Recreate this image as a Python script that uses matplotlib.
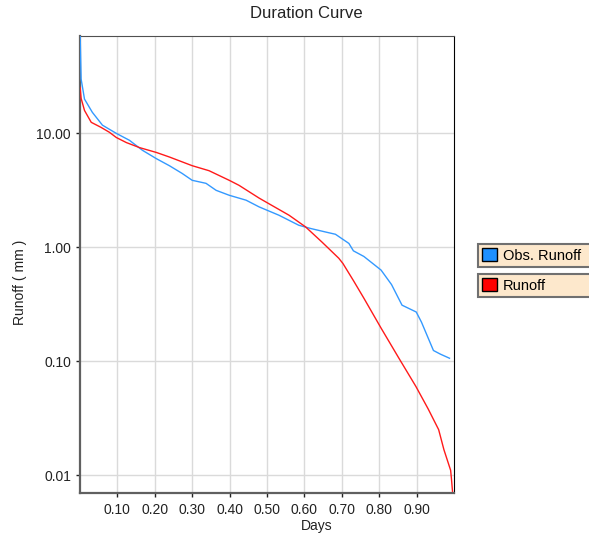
import numpy as np
import matplotlib
matplotlib.use('Agg')
import matplotlib.pyplot as plt
import matplotlib.patches as mpatches

plt.rcParams['font.family'] = ['Liberation Sans', 'DejaVu Sans']

# exceedance fraction vs runoff (mm)
obs_x = [0.0, 0.0005, 0.003, 0.012, 0.033, 0.06, 0.097, 0.132, 0.167, 0.204,
         0.239, 0.273, 0.30, 0.337, 0.364, 0.399, 0.444, 0.479, 0.532, 0.585,
         0.617, 0.657, 0.683, 0.719, 0.731, 0.759, 0.805, 0.833, 0.861, 0.899,
         0.913, 0.945, 0.964, 0.988]
obs_y = [75.0, 70.0, 30.0, 20.0, 15.3, 11.8, 10.0, 8.7, 7.1, 6.0,
         5.2, 4.45, 3.87, 3.64, 3.16, 2.86, 2.59, 2.26, 1.91, 1.56,
         1.46, 1.36, 1.30, 1.08, 0.93, 0.83, 0.63, 0.47, 0.31, 0.27,
         0.22, 0.124, 0.115, 0.106]

sim_x = [0.0, 0.0005, 0.003, 0.012, 0.03, 0.056, 0.079, 0.097, 0.124, 0.159,
         0.204, 0.239, 0.30, 0.345, 0.399, 0.425, 0.479, 0.513, 0.559, 0.603,
         0.647, 0.692, 0.703, 0.731, 0.759, 0.805, 0.852, 0.898, 0.931, 0.959,
         0.973, 0.991, 0.993, 0.996]
sim_y = [25.3, 25.0, 20.3, 15.9, 12.5, 11.3, 10.2, 9.2, 8.3, 7.5,
         6.8, 6.2, 5.2, 4.7, 3.87, 3.5, 2.7, 2.33, 1.91, 1.51,
         1.11, 0.80, 0.72, 0.51, 0.357, 0.195, 0.107, 0.060, 0.038, 0.025,
         0.0167, 0.011, 0.0094, 0.0072]

xticks = [0.1, 0.2, 0.3, 0.4, 0.5, 0.6, 0.7, 0.8, 0.9]
yticks = [0.01, 0.1, 1.0, 10.0]

W, H = 589, 536
fig = plt.figure(figsize=(W / 100, H / 100), dpi=100)
ax = fig.add_axes([80 / W, 1 - 493 / H, 374 / W, 457 / H])

ax.plot(obs_x, obs_y, color='#3399FF', lw=1.0, zorder=3)
ax.plot(sim_x, sim_y, color='#FF1A1A', lw=1.0, zorder=3)

ax.set_yscale('log')
ax.set_xlim(0, 1)
ax.set_ylim(0.00695, 71.6)
ax.set_xticks(xticks)
ax.set_xticklabels(['%.2f' % v for v in xticks])
ax.set_yticks(yticks)
ax.set_yticklabels(['%.2f' % v for v in yticks])
ax.yaxis.set_minor_locator(matplotlib.ticker.NullLocator())
ax.tick_params(labelsize=10, length=3, width=1, colors='#222222')
ax.tick_params(axis='x', pad=4.5)
ax.grid(True, color='#DADADA', lw=1)
ax.set_axisbelow(True)

for side in ['left', 'bottom']:
    ax.spines[side].set_color('#606060')
    ax.spines[side].set_linewidth(1.6)
ax.spines['top'].set_color('#505050')
ax.spines['right'].set_color('black')

fig.text(306 / W, 1 - 14 / H, 'Duration Curve', ha='center', va='center',
         fontsize=12, color='#222222')
fig.text(317 / W, 1 - 526 / H, 'Days', ha='center', va='center',
         fontsize=10, color='#222222')
fig.text(20 / W, 1 - 282 / H, 'Runoff ( mm )', ha='center', va='center',
         rotation=90, fontsize=10, color='#222222')

# two separate legend boxes, as in the original
entries = [('Obs. Runoff', '#1E90FF', 244), ('Runoff', '#FF0000', 274)]
for label, c, ytop in entries:
    h = mpatches.Patch(facecolor=c, edgecolor='black', lw=1)
    leg = fig.legend(handles=[h], labels=[label], loc='upper left',
                     bbox_to_anchor=(478 / W, 1 - (ytop + 24) / H, 130 / W, 24 / H),
                     mode='expand', borderaxespad=0, fancybox=False,
                     fontsize=10.5, handlelength=1.0, handleheight=1.0,
                     handletextpad=0.4, borderpad=0.3, framealpha=1)
    leg.get_frame().set_facecolor('#FDE8CC')
    leg.get_frame().set_edgecolor('#707070')
    leg.get_frame().set_linewidth(1.5)

fig.savefig('out.png', dpi=100)
